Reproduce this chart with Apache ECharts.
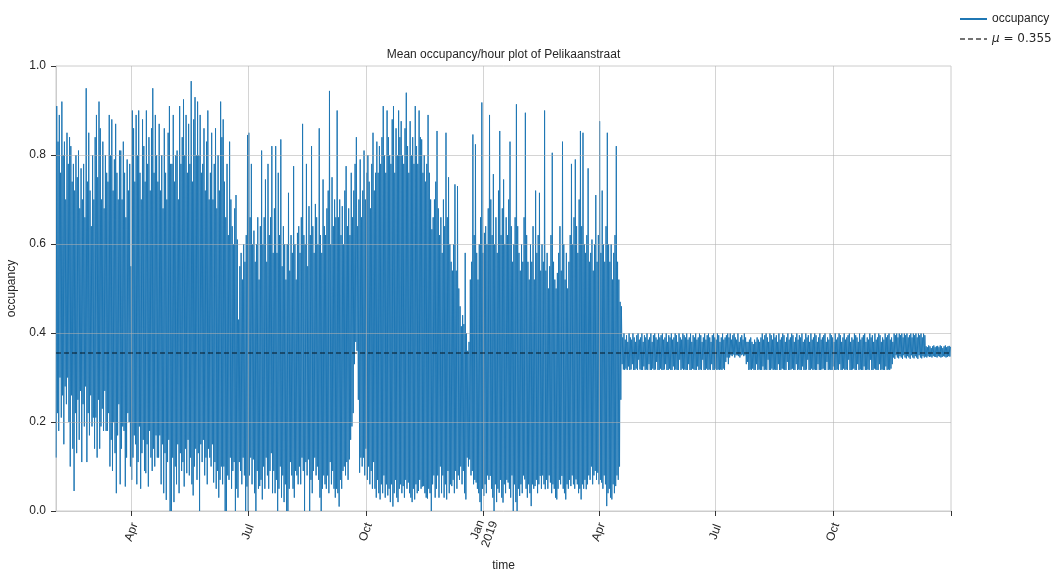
<!DOCTYPE html>
<html><head><meta charset="utf-8">
<script src="https://cdn.jsdelivr.net/npm/echarts@6/dist/echarts.min.js"></script>
<style>html,body{margin:0;padding:0;background:#fff}#c{width:1058px;height:574px}</style>
</head><body><div id="c"></div>
<script>
// ---- data ----
const TITLE = 'Mean occupancy/hour plot of Pelikaanstraat';
const START_DAY = '2018-02-01';
const END_DAY = '2020-01-01';
const MEAN = 0.355;
const tickDates = ['2018-04-01','2018-07-01','2018-10-01','2019-01-01','2019-04-01','2019-07-01','2019-10-01','2020-01-01'];
const tickLabels = ['Apr','Jul','Oct','Jan\n2019','Apr','Jul','Oct',''];
const yTicks = [0, 0.2, 0.4, 0.6, 0.8, 1.0];

// daily peaks / troughs, 1 Feb 2018 .. 17 Apr 2019
const highA = [
0.91,0.83,0.89,0.76,0.92,0.80,0.83,0.70,0.85,0.78,
0.84,0.82,0.74,0.78,0.72,0.80,0.75,0.81,0.68,0.77,
0.70,0.78,0.66,0.95,0.74,0.85,0.72,0.64,0.80,0.70,
0.84,0.89,0.75,0.92,0.86,0.70,0.83,0.68,0.80,0.76,
0.74,0.89,0.80,0.88,0.72,0.79,0.87,0.76,0.70,0.81,
0.81,0.70,0.83,0.76,0.66,0.79,0.72,0.78,0.55,0.90,
0.86,0.74,0.89,0.80,0.90,0.76,0.70,0.88,0.82,0.74,
0.90,0.78,0.84,0.72,0.86,0.95,0.76,0.89,0.80,0.74,
0.87,0.72,0.80,0.68,0.86,0.76,0.70,0.85,0.91,0.78,
0.78,0.89,0.74,0.80,0.81,0.70,0.91,0.78,0.84,0.925,
0.80,0.89,0.76,0.87,0.78,0.966,0.74,0.88,0.93,0.80,
0.92,0.80,0.89,0.76,0.78,0.86,0.72,0.83,0.90,0.70,
0.76,0.85,0.70,0.78,0.86,0.68,0.80,0.72,0.92,0.84,
0.88,0.74,0.66,0.78,0.62,0.83,0.70,0.64,0.60,0.68,
0.71,0.61,0.43,0.55,0.58,0.52,0.60,0.56,0.62,0.845,
0.85,0.66,0.78,0.60,0.63,0.56,0.60,0.66,0.52,0.64,
0.81,0.60,0.66,0.745,0.56,0.78,0.62,0.66,0.82,0.58,
0.68,0.82,0.58,0.76,0.62,0.835,0.55,0.64,0.60,0.52,
0.60,0.715,0.54,0.62,0.58,0.775,0.60,0.52,0.625,0.64,
0.58,0.66,0.87,0.62,0.60,0.78,0.55,0.685,0.62,0.82,
0.64,0.58,0.69,0.66,0.60,0.86,0.62,0.58,0.745,0.64,
0.62,0.68,0.72,0.944,0.60,0.75,0.64,0.70,0.66,0.90,
0.66,0.70,0.62,0.685,0.60,0.72,0.775,0.64,0.68,0.62,
0.76,0.66,0.72,0.78,0.84,0.64,0.70,0.79,0.66,0.72,
0.81,0.70,0.76,0.80,0.74,0.68,0.78,0.85,0.72,0.76,
0.83,0.76,0.82,0.78,0.84,0.91,0.80,0.76,0.90,0.84,
0.80,0.78,0.88,0.91,0.76,0.86,0.80,0.90,0.84,0.876,
0.80,0.78,0.86,0.94,0.82,0.76,0.876,0.80,0.84,0.78,
0.91,0.82,0.78,0.90,0.84,0.835,0.76,0.80,0.74,0.78,
0.89,0.76,0.70,0.633,0.66,0.70,0.74,0.854,0.68,0.62,
0.66,0.58,0.70,0.64,0.85,0.66,0.75,0.60,0.56,0.54,
0.60,0.734,0.54,0.73,0.50,0.46,0.415,0.44,0.42,0.58,
0.40,0.36,0.38,0.52,0.56,0.846,0.62,0.824,0.58,0.52,
0.60,0.66,0.918,0.58,0.625,0.64,0.60,0.68,0.89,0.70,
0.62,0.757,0.60,0.66,0.58,0.72,0.854,0.62,0.68,0.745,
0.60,0.66,0.62,0.70,0.83,0.64,0.56,0.60,0.66,0.914,
0.64,0.58,0.54,0.60,0.56,0.66,0.895,0.62,0.56,0.52,
0.60,0.56,0.64,0.52,0.72,0.58,0.62,0.715,0.54,0.60,
0.56,0.90,0.54,0.58,0.50,0.55,0.62,0.805,0.56,0.52,
0.50,0.535,0.58,0.64,0.54,0.83,0.60,0.52,0.58,0.50,
0.56,0.62,0.78,0.60,0.66,0.79,0.64,0.58,0.70,0.854,
0.64,0.85,0.60,0.58,0.62,0.77,0.56,0.58,0.61,0.54,
0.60,0.71,0.56,0.62,0.876,0.58,0.72,0.60,0.56,0.64,
0.85,0.60,0.56,0.60,0.52,0.58,0.62,0.82,0.56,0.52,0.47,0.46
];
const lowA = [
0.12,0.22,0.18,0.30,0.21,0.26,0.15,0.28,0.24,0.30,
0.20,0.10,0.26,0.14,0.045,0.22,0.13,0.25,0.16,0.27,
0.11,0.24,0.19,0.28,0.11,0.22,0.17,0.26,0.19,0.21,
0.14,0.21,0.12,0.25,0.14,0.19,0.23,0.18,0.27,0.18,
0.18,0.22,0.10,0.16,0.09,0.20,0.13,0.04,0.17,0.24,
0.06,0.14,0.19,0.18,0.055,0.12,0.22,0.20,0.10,0.07,
0.12,0.17,0.15,0.06,0.11,0.19,0.05,0.13,0.16,0.09,
0.085,0.15,0.055,0.18,0.12,0.09,0.14,0.10,0.17,0.12,
0.12,0.17,0.06,0.15,0.04,0.13,0.025,0.11,0.16,0.0,
0.0,0.12,0.02,0.10,0.06,0.15,0.04,0.13,0.09,0.11,
0.055,0.14,0.085,0.16,0.08,0.12,0.06,0.035,0.10,0.14,
0.07,0.13,0.0,0.15,0.11,0.16,0.08,0.12,0.06,0.14,
0.12,0.10,0.15,0.064,0.11,0.05,0.09,0.03,0.07,0.10,
0.06,0.10,0.0,0.0,0.08,0.07,0.12,0.05,0.09,0.11,
0.0,0.05,0.03,0.11,0.09,0.06,0.12,0.08,0.0,0.055,
0.0,0.08,0.12,0.06,0.116,0.04,0.0,0.09,0.05,0.056,
0.07,0.026,0.10,0.05,0.12,0.08,0.05,0.09,0.13,0.04,
0.09,0.04,0.07,0.0,0.05,0.10,0.03,0.08,0.02,0.06,
0.0,0.0,0.05,0.11,0.08,0.05,0.03,0.09,0.08,0.06,
0.10,0.06,0.12,0.09,0.0,0.11,0.08,0.116,0.0,0.07,
0.04,0.09,0.12,0.08,0.10,0.07,0.03,0.0,0.05,0.08,
0.06,0.05,0.08,0.04,0.11,0.06,0.09,0.05,0.03,0.05,
0.04,0.01,0.07,0.05,0.09,0.10,0.08,0.11,0.07,0.116,
0.16,0.19,0.22,0.33,0.38,0.36,0.25,0.086,0.12,0.10,
0.12,0.08,0.14,0.07,0.10,0.06,0.09,0.05,0.11,0.05,
0.03,0.07,0.04,0.026,0.06,0.04,0.08,0.03,0.06,0.035,
0.05,0.02,0.06,0.01,0.04,0.07,0.03,0.02,0.05,0.06,
0.04,0.056,0.03,0.07,0.05,0.064,0.04,0.03,0.02,0.05,
0.026,0.06,0.04,0.045,0.07,0.05,0.055,0.056,0.04,0.03,
0.028,0.05,0.04,0.0,0.06,0.08,0.03,0.05,0.08,0.03,
0.10,0.04,0.08,0.03,0.06,0.026,0.09,0.04,0.06,0.056,
0.07,0.04,0.09,0.05,0.08,0.07,0.10,0.06,0.09,0.04,
0.026,0.12,0.10,0.116,0.08,0.09,0.06,0.07,0.064,0.05,
0.04,0.02,0.0,0.05,0.034,0.06,0.04,0.08,0.07,0.079,
0.05,0.03,0.0,0.06,0.02,0.05,0.041,0.07,0.03,0.019,
0.06,0.04,0.07,0.064,0.05,0.03,0.08,0.0,0.06,0.02,
0.0,0.05,0.034,0.06,0.04,0.08,0.071,0.05,0.03,0.06,
0.04,0.011,0.06,0.05,0.056,0.07,0.04,0.06,0.079,0.05,
0.08,0.06,0.049,0.07,0.05,0.08,0.064,0.04,0.06,0.05,
0.03,0.026,0.05,0.07,0.06,0.079,0.05,0.04,0.026,0.06,
0.05,0.07,0.056,0.08,0.06,0.05,0.071,0.06,0.04,0.05,
0.026,0.06,0.05,0.07,0.049,0.06,0.08,0.07,0.10,0.06,
0.08,0.09,0.07,0.086,0.06,0.07,0.064,0.05,0.08,0.06,
0.011,0.04,0.05,0.03,0.026,0.06,0.04,0.056,0.08,0.07,0.10,0.25
];
// daily peaks / troughs, 18 Apr 2019 .. 31 Dec 2019
const highB = [
0.39,0.40,0.385,0.395,0.38,0.40,0.39,0.385,0.40,0.39,
0.38,0.395,0.40,0.385,0.39,0.40,0.38,0.395,0.39,0.40,
0.385,0.39,0.40,0.38,0.395,0.40,0.39,0.385,0.40,0.39,
0.395,0.40,0.385,0.39,0.40,0.38,0.395,0.39,0.40,0.385,
0.39,0.40,0.395,0.38,0.40,0.39,0.385,0.40,0.395,0.39,
0.40,0.385,0.39,0.40,0.38,0.395,0.39,0.40,0.385,0.39,
0.40,0.395,0.38,0.39,0.40,0.385,0.395,0.40,0.39,0.38,
0.395,0.40,0.39,0.385,0.40,0.395,0.38,0.39,0.40,0.385,
0.39,0.395,0.40,
0.39,0.40,0.385,0.395,0.40,0.39,0.385,0.40,0.38,0.39,0.395,0.385,0.40,0.39,0.38,
0.38,0.385,0.39,0.38,0.375,0.385,0.38,0.39,0.385,0.38,
0.39,0.40,0.385,0.395,0.40,0.39,0.38,0.40,0.395,0.385,
0.40,0.39,0.395,0.38,0.40,0.385,0.39,0.40,0.395,0.38,
0.39,0.40,0.385,0.39,0.40,0.395,0.38,0.39,0.40,0.385,
0.395,0.39,0.40,0.38,0.385,0.40,0.39,0.395,0.38,0.40,
0.385,0.39,0.40,0.395,0.38,0.39,0.40,0.385,0.39,0.395,
0.40,0.38,0.39,0.385,0.40,0.395,0.39,0.38,0.40,0.385,
0.39,0.40,0.395,0.38,0.39,0.40,0.385,0.39,0.395,0.40,
0.38,0.39,0.385,0.40,0.395,0.39,0.38,0.40,0.385,0.39,
0.395,0.40,0.38,0.39,0.385,0.40,0.39,0.395,0.38,0.40,
0.385,0.39,0.40,0.395,0.38,0.39,0.385,0.40,0.39,0.395,
0.40,0.385,0.39,0.38,
0.40,0.395,0.40,0.39,0.40,0.395,0.40,0.39,0.40,0.395,0.40,0.39,0.395,0.40,0.39,0.40,0.395,0.40,0.39,0.40,0.395,0.40,0.39,0.40,0.395,
0.37,0.368,0.372,0.37,0.366,0.37,0.372,0.368,0.37,0.371,0.368,0.372,0.37,0.366,0.37,0.372,0.368,0.37,0.371,0.369
];
const lowB = [
0.33,0.318,0.317,0.32,0.317,0.325,0.317,0.318,0.33,0.317,
0.317,0.32,0.317,0.34,0.318,0.317,0.317,0.325,0.317,0.318,
0.317,0.33,0.317,0.317,0.32,0.317,0.318,0.335,0.317,0.317,
0.32,0.317,0.317,0.318,0.33,0.317,0.317,0.32,0.317,0.317,
0.325,0.317,0.318,0.317,0.317,0.34,0.317,0.32,0.317,0.318,
0.317,0.317,0.33,0.317,0.317,0.32,0.318,0.317,0.317,0.325,
0.317,0.318,0.317,0.34,0.317,0.317,0.32,0.317,0.318,0.317,
0.33,0.317,0.317,0.32,0.317,0.318,0.317,0.318,0.317,0.32,
0.317,0.335,0.345,
0.33,0.345,0.35,0.348,0.352,0.345,0.35,0.35,0.348,0.345,0.35,0.352,0.348,0.35,0.33,
0.335,0.317,0.318,0.317,0.32,0.317,0.317,0.33,0.317,0.318,
0.317,0.317,0.325,0.317,0.318,0.317,0.34,0.317,0.317,0.32,
0.317,0.318,0.317,0.317,0.33,0.317,0.317,0.32,0.318,0.317,
0.317,0.335,0.317,0.317,0.318,0.32,0.317,0.317,0.33,0.317,
0.318,0.317,0.317,0.325,0.317,0.317,0.318,0.34,0.317,0.317,
0.32,0.317,0.318,0.317,0.317,0.33,0.317,0.317,0.318,0.32,
0.317,0.317,0.335,0.317,0.318,0.317,0.317,0.325,0.317,0.317,
0.318,0.317,0.33,0.317,0.317,0.32,0.317,0.318,0.317,0.34,
0.317,0.317,0.318,0.32,0.317,0.317,0.33,0.317,0.318,0.317,
0.317,0.325,0.317,0.317,0.318,0.317,0.34,0.317,0.317,0.32,
0.318,0.317,0.317,0.33,0.317,0.318,0.317,0.317,0.325,0.317,
0.318,0.317,0.32,0.33,
0.345,0.342,0.35,0.345,0.343,0.348,0.345,0.342,0.35,0.345,0.343,0.348,0.345,0.342,0.35,0.345,0.343,0.348,0.345,0.342,0.35,0.345,0.343,0.348,0.345,
0.347,0.345,0.348,0.346,0.347,0.345,0.348,0.347,0.346,0.345,0.348,0.347,0.345,0.346,0.348,0.347,0.345,0.346,0.348,0.347
];

// ---- build ----
const DAY = 86400000, HOUR = 3600000;
const t0 = Date.parse(START_DAY + 'T00:00:00Z');
const tEnd = Date.parse(END_DAY + 'T00:00:00Z');
const tickVals = tickDates.map(d => Date.parse(d + 'T00:00:00Z'));
const highs = highA.concat(highB), lows = lowA.concat(lowB);
const occ = [];
for (let i = 0; i < highs.length; i++) {
  const day = t0 + i * DAY;
  occ.push([day + 3 * HOUR, lows[i]]);
  occ.push([day + 14 * HOUR, highs[i]]);
}
const FONT = 'Liberation Sans';
const GRID_COLOR = 'rgba(176,176,176,0.55)';
const gridMarks = tickVals.slice(0, -1).map(v => ({xAxis: v}))
  .concat(yTicks.slice(1, -1).map(v => ({yAxis: v})));
const chart = echarts.init(document.getElementById('c'), null, {renderer: 'canvas'});
chart.setOption({
  animation: false,
  backgroundColor: '#ffffff',
  textStyle: {fontFamily: FONT},
  grid: {left: 56, right: 107, top: 66, bottom: 63, containLabel: false, outerBoundsMode: 'none',
    show: true, borderColor: '#cccccc', borderWidth: 1, backgroundColor: 'transparent'},
  graphic: [{
    type: 'text', x: 503.5, y: 55, z: 10,
    style: {text: TITLE, textAlign: 'center', textVerticalAlign: 'middle', font: '12px "Liberation Sans"', fill: '#262626'}
  }],
  legend: {
    orient: 'vertical', left: 954, top: 8, itemWidth: 27, itemHeight: 12, itemGap: 8,
    data: ['occupancy', 'μ = 0.355'],
    itemStyle: {opacity: 0, borderWidth: 0},
    textStyle: {fontSize: 12, color: '#262626', fontFamily: FONT,
      rich: {i: {fontStyle: 'italic', fontFamily: 'DejaVu Sans', fontSize: 12, color: '#262626'},
             n: {fontFamily: 'DejaVu Sans', fontSize: 12, color: '#262626'}}},
    formatter: n => n.indexOf('μ') === 0 ? '{i|μ}{n| = ' + MEAN.toFixed(3) + '}' : n
  },
  xAxis: {
    type: 'value', min: t0, max: tEnd, scale: true,
    name: 'time', nameLocation: 'middle', nameGap: 49,
    nameTextStyle: {fontSize: 12, color: '#262626', fontFamily: FONT},
    axisLine: {show: true, onZero: false, lineStyle: {color: '#cccccc', width: 1}},
    axisTick: {show: true, customValues: tickVals, length: 5, lineStyle: {color: '#333333'}},
    axisLabel: {customValues: tickVals, rotate: 70, margin: 21, align: 'center', verticalAlign: 'middle',
      fontSize: 12, lineHeight: 13, color: '#262626', fontFamily: FONT,
      formatter: v => { const k = tickVals.findIndex(t => Math.abs(t - v) < DAY / 2); return k >= 0 ? tickLabels[k] : ''; }},
    splitLine: {show: false}
  },
  yAxis: {
    type: 'value', min: yTicks[0], max: yTicks[yTicks.length - 1], interval: 0.2,
    name: 'occupancy', nameLocation: 'middle', nameGap: 38, nameRotate: 90,
    nameTextStyle: {fontSize: 12, color: '#262626', fontFamily: FONT},
    axisLine: {show: true, lineStyle: {color: '#cccccc', width: 1}},
    axisTick: {show: true, length: 5, lineStyle: {color: '#333333'}},
    axisLabel: {margin: 10, fontSize: 12, color: '#262626', fontFamily: FONT, formatter: v => v.toFixed(1)},
    splitLine: {show: false}
  },
  series: [
    {
      name: 'occupancy', type: 'line', z: 2, symbol: 'none', showSymbol: false, sampling: null,
      data: occ, lineStyle: {color: '#1f77b4', width: 1}, itemStyle: {color: '#1f77b4'}
    },
    {
      name: 'grid', type: 'line', silent: true, z: 3, symbol: 'none',
      data: [[t0, MEAN], [tEnd, MEAN]], lineStyle: {opacity: 0},
      markLine: {silent: true, z: 3, symbol: ['none', 'none'], label: {show: false}, animation: false,
        emphasis: {disabled: true},
        lineStyle: {color: GRID_COLOR, type: 'solid', width: 1},
        data: gridMarks}
    },
    {
      name: 'μ = 0.355', type: 'line', z: 6, symbol: 'none', showSymbol: false,
      data: [[t0, MEAN], [tEnd, MEAN]],
      lineStyle: {color: 'rgba(0,0,0,0.55)', type: [5, 3], width: 1.5},
      itemStyle: {color: 'rgba(0,0,0,0.55)'}
    }
  ]
});
</script>
</body></html>
